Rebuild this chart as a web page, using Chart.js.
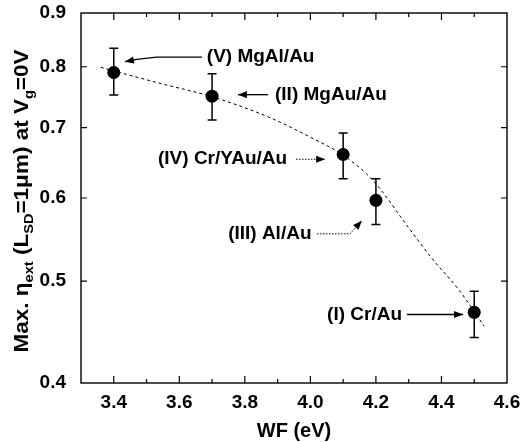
<!DOCTYPE html>
<html>
<head>
<meta charset="utf-8">
<script src="https://cdn.jsdelivr.net/npm/chart.js@4.4.1/dist/chart.umd.min.js"></script>
<style>
  body { margin: 0; background: #fff; }
  canvas { display: block; }
</style>
</head>
<body>
<canvas id="wfChart" width="521" height="442"></canvas>
<script>
// measured devices: work function vs max external efficiency
const wf = [3.4, 3.7, 4.1, 4.2, 4.5];
const eta = [0.79, 0.75, 0.66, 0.597, 0.467];
const etaHigh = [0.833, 0.788, 0.692, 0.626, 0.489];
const etaLow = [0.752, 0.712, 0.626, 0.566, 0.442];

// dashed guide-to-the-eye curve
const fitX = [3.36, 3.53, 3.70, 3.87, 4.01, 4.10, 4.19, 4.30, 4.37, 4.45, 4.50, 4.53];
const fitY = [0.799, 0.773, 0.749, 0.717, 0.683, 0.659, 0.624, 0.562, 0.526, 0.492, 0.468, 0.453];

const yTicks = [0.4, 0.5, 0.6, 0.7, 0.8, 0.9];

// labels with arrows, in data coordinates
const notes = [
  { text: '(V) MgAl/Au', x: 3.684, y: 0.817, dash: false,
    path: [[3.669, 0.817], [3.53, 0.817], [3.47, 0.813], [3.434, 0.809]] },
  { text: '(II) MgAu/Au', x: 3.892, y: 0.7525, dash: false,
    path: [[3.871, 0.7525], [3.779, 0.7525]] },
  { text: '(IV) Cr/YAu/Au', x: 3.535, y: 0.6532, dash: true,
    path: [[3.956, 0.6532], [4.045, 0.6532]] },
  { text: '(III) Al/Au', x: 3.749, y: 0.5547, dash: true,
    path: [[4.020, 0.5547], [4.121, 0.5547], [4.157, 0.5709]] },
  { text: '(I) Cr/Au', x: 4.051, y: 0.4648, dash: false,
    path: [[4.295, 0.4648], [4.466, 0.4648]] }
];

const FONT = '"Liberation Sans", Arial, Helvetica, sans-serif';

const errorBars = {
  id: 'errorBars',
  beforeDatasetsDraw(chart) {
    const { ctx, scales: { x, y } } = chart;
    ctx.save();
    ctx.strokeStyle = '#000';
    ctx.lineWidth = 1.5;
    wf.forEach((v, i) => {
      const px = x.getPixelForValue(v);
      const top = y.getPixelForValue(etaHigh[i]);
      const bot = y.getPixelForValue(etaLow[i]);
      ctx.beginPath();
      ctx.moveTo(px, top); ctx.lineTo(px, bot);
      ctx.moveTo(px - 4.5, top); ctx.lineTo(px + 4.5, top);
      ctx.moveTo(px - 4.5, bot); ctx.lineTo(px + 4.5, bot);
      ctx.stroke();
    });
    ctx.restore();
  }
};

function arrowHead(ctx, from, to) {
  const a = Math.atan2(to[1] - from[1], to[0] - from[0]);
  const len = 9, half = 3.6;
  ctx.beginPath();
  ctx.moveTo(to[0], to[1]);
  ctx.lineTo(to[0] - len * Math.cos(a) + half * Math.sin(a), to[1] - len * Math.sin(a) - half * Math.cos(a));
  ctx.lineTo(to[0] - len * Math.cos(a) - half * Math.sin(a), to[1] - len * Math.sin(a) + half * Math.cos(a));
  ctx.closePath();
  ctx.fill();
}

const frameAndText = {
  id: 'frameAndText',
  afterDraw(chart) {
    const { ctx, chartArea: a, scales: { x, y } } = chart;
    ctx.save();

    // box
    ctx.strokeStyle = '#000';
    ctx.lineWidth = 1.4;
    ctx.strokeRect(a.left, a.top, a.right - a.left, a.bottom - a.top);

    // inward ticks
    ctx.lineWidth = 1.2;
    ctx.beginPath();
    for (let k = 34; k <= 45; k++) {
      const px = x.getPixelForValue(k / 10);
      const len = k % 2 === 0 ? 7 : 4;
      ctx.moveTo(px, a.bottom); ctx.lineTo(px, a.bottom - len);
      ctx.moveTo(px, a.top); ctx.lineTo(px, a.top + len);
    }
    yTicks.slice(1, -1).forEach(v => {
      const py = y.getPixelForValue(v);
      ctx.moveTo(a.left, py); ctx.lineTo(a.left + 6, py);
      ctx.moveTo(a.right, py); ctx.lineTo(a.right - 6, py);
    });
    ctx.stroke();

    // annotations
    ctx.fillStyle = '#000';
    ctx.font = 'bold 19px ' + FONT;
    ctx.textBaseline = 'middle';
    ctx.textAlign = 'left';
    notes.forEach(n => {
      ctx.fillText(n.text, x.getPixelForValue(n.x), y.getPixelForValue(n.y));
      const pts = n.path.map(p => [x.getPixelForValue(p[0]), y.getPixelForValue(p[1])]);
      ctx.lineWidth = n.dash ? 1 : 1.3;
      ctx.setLineDash(n.dash ? [1.5, 1.5] : []);
      ctx.beginPath();
      ctx.moveTo(pts[0][0], pts[0][1]);
      for (let i = 1; i < pts.length; i++) ctx.lineTo(pts[i][0], pts[i][1]);
      ctx.stroke();
      ctx.setLineDash([]);
      arrowHead(ctx, pts[pts.length - 2], pts[pts.length - 1]);
    });

    // x title
    ctx.textAlign = 'center';
    ctx.font = 'bold 20px ' + FONT;
    ctx.fillText('WF (eV)', (a.left + a.right) / 2, 431);

    // y title with subscripts, rotated, squeezed to its printed length
    const parts = [
      ['Max. \u03b7', false], ['ext', true], [' (L', false], ['SD', true],
      ['=1\u03bcm) at V', false], ['g', true], ['=0V', false]
    ];
    const big = 'bold 20px ' + FONT, small = 'bold 13px ' + FONT;
    let total = 0;
    parts.forEach(p => { ctx.font = p[1] ? small : big; total += ctx.measureText(p[0]).width; });
    ctx.translate(28, 201);
    ctx.rotate(-Math.PI / 2);
    ctx.scale(303 / total, 1);
    ctx.textAlign = 'left';
    ctx.textBaseline = 'alphabetic';
    let cx = -total / 2;
    parts.forEach(p => {
      ctx.font = p[1] ? small : big;
      ctx.fillText(p[0], cx, p[1] ? 5 : 0);
      cx += ctx.measureText(p[0]).width;
    });
    ctx.restore();
  }
};

new Chart(document.getElementById('wfChart'), {
  type: 'scatter',
  data: {
    datasets: [
      {
        label: 'devices',
        data: wf.map((v, i) => ({ x: v, y: eta[i] })),
        backgroundColor: '#000',
        borderWidth: 0,
        pointRadius: 6.5,
        order: 0
      },
      {
        type: 'line',
        label: 'fit',
        data: fitX.map((v, i) => ({ x: v, y: fitY[i] })),
        borderColor: '#000',
        borderWidth: 1,
        borderDash: [3, 3],
        pointRadius: 0,
        fill: false,
        cubicInterpolationMode: 'monotone',
        order: 1
      }
    ]
  },
  options: {
    responsive: false,
    animation: false,
    events: [],
    layout: { padding: { top: 13, right: 14, left: 0, bottom: 0 } },
    plugins: { legend: { display: false }, tooltip: { enabled: false } },
    scales: {
      x: {
        type: 'linear',
        min: 3.3,
        max: 4.6,
        grid: { display: false },
        border: { display: false },
        ticks: {
          stepSize: 0.1,
          color: '#000',
          padding: 0,
          maxRotation: 0,
          autoSkip: false,
          font: { family: FONT, size: 19, weight: 'bold' },
          callback: v => (Math.round(v * 10) % 2 === 0 ? v.toFixed(1) : '')
        },
        afterFit(scale) {
          scale.height = 59;
          scale.paddingLeft = 0;
          scale.paddingRight = 0;
        }
      },
      y: {
        type: 'logarithmic',
        min: 0.4,
        max: 0.9,
        grid: { display: false },
        border: { display: false },
        afterBuildTicks(scale) { scale.ticks = yTicks.map(v => ({ value: v })); },
        ticks: {
          color: '#000',
          padding: 7,
          font: { family: FONT, size: 19, weight: 'bold' },
          callback: v => Number(v).toFixed(1)
        },
        afterFit(scale) {
          scale.width = 81;
          scale.paddingTop = 0;
          scale.paddingBottom = 0;
        }
      }
    }
  },
  plugins: [errorBars, frameAndText]
});
</script>
</body>
</html>
